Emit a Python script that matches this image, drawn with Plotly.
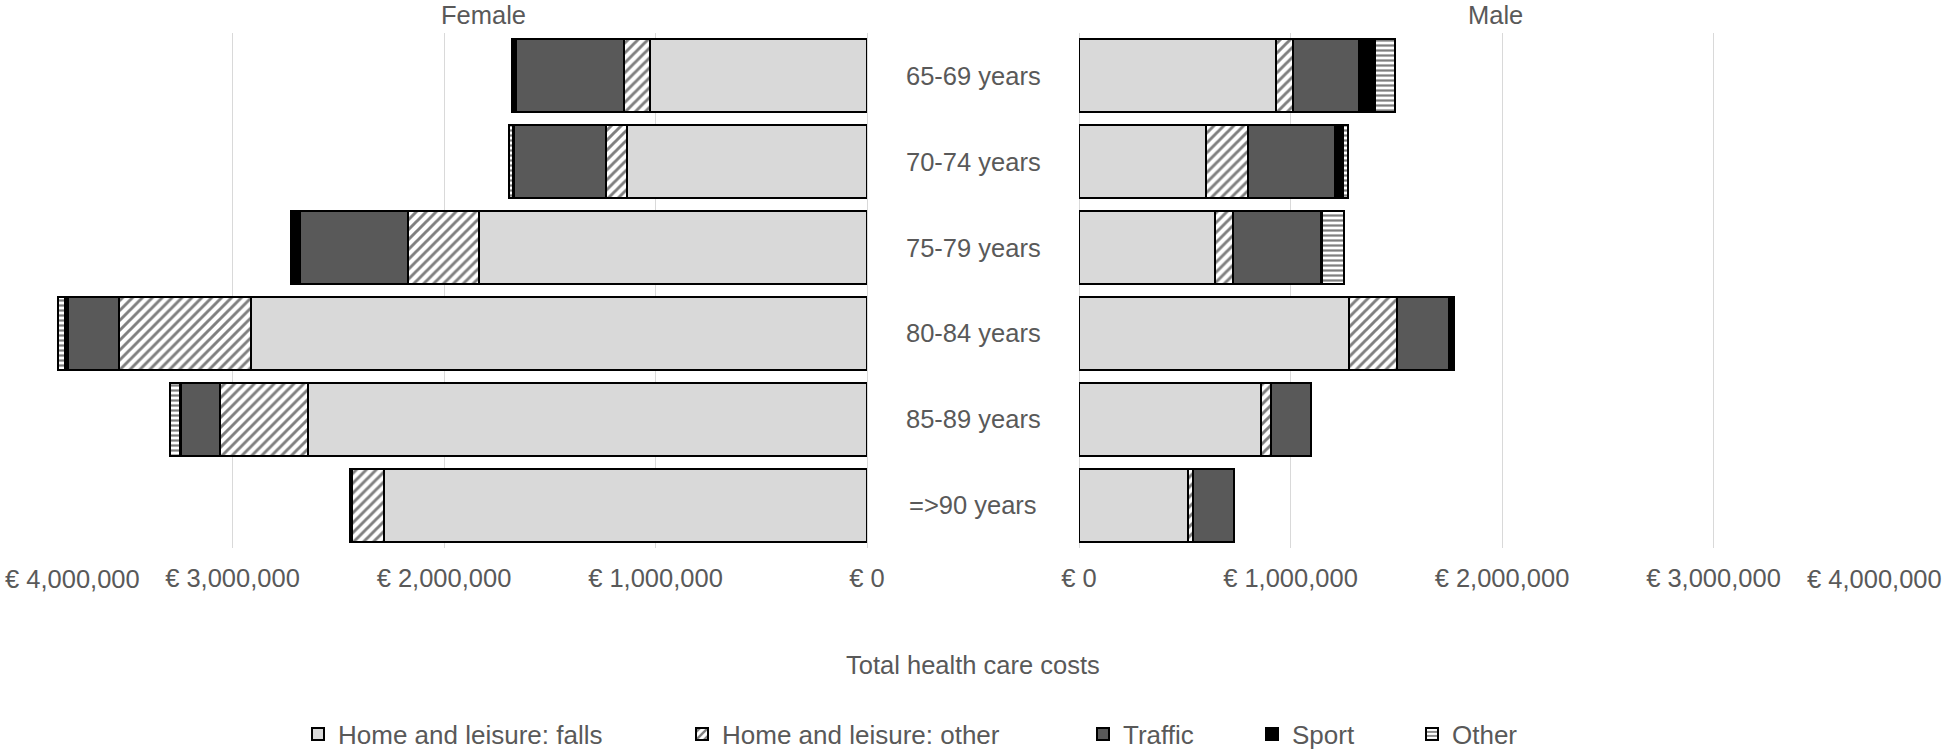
import plotly.graph_objects as go

W, H = 1946, 752

age_groups = ["65-69 years", "70-74 years", "75-79 years", "80-84 years", "85-89 years", "=>90 years"]
cause_names = ["Home and leisure: falls", "Home and leisure: other", "Traffic", "Sport", "Other"]

female_falls = [1025000, 1135000, 1835000, 2913000, 2645000, 2285000]
female_hl_other = [125000, 100000, 337000, 622000, 413000, 152000]
female_traffic = [508000, 434000, 510000, 245000, 187000, 0]
female_sport = [20000, 5000, 41000, 13000, 5000, 8000]
female_other = [0, 18000, 0, 30000, 45000, 0]

male_falls = [932000, 602000, 643000, 1275000, 859000, 513000]
male_hl_other = [81000, 197000, 87000, 227000, 51000, 25000]
male_traffic = [311000, 411000, 413000, 246000, 189000, 195000]
male_sport = [76000, 38000, 8000, 27000, 0, 0]
male_other = [92000, 24000, 103000, 0, 0, 0]

tick_values = [0, 1000000, 2000000, 3000000, 4000000]

female = [female_falls, female_hl_other, female_traffic, female_sport, female_other]
male = [male_falls, male_hl_other, male_traffic, male_sport, male_other]

FONT = "Liberation Sans, Arial, sans-serif"
TXT = "#595959"
FS = 25.5

styles = [
    dict(color="#D9D9D9"),
    dict(color="white", pattern=dict(shape="/", fgcolor="black", bgcolor="white", size=7, solidity=0.42)),
    dict(color="#595959"),
    dict(color="#000000"),
    dict(color="white", pattern=dict(shape="-", fgcolor="black", bgcolor="white", size=5, solidity=0.45)),
]

legend_ids = ["legend", "legend2", "legend3", "legend4", "legend5"]
text_starts = [343, 727, 1128, 1297, 1457]

fig = go.Figure()
for i, name in enumerate(cause_names):
    st = styles[i]
    marker = dict(color=st["color"], line=dict(color="black", width=2))
    if "pattern" in st:
        marker["pattern"] = st["pattern"]
    fig.add_trace(go.Bar(y=age_groups, x=female[i], orientation="h", name=name,
                         marker=marker, xaxis="x", yaxis="y",
                         legend=legend_ids[i], showlegend=True))
    fig.add_trace(go.Bar(y=age_groups, x=male[i], orientation="h", name=name,
                         marker=marker, xaxis="x2", yaxis="y",
                         legend=legend_ids[i], showlegend=False))

ticktext = [f"€ {v:,}" if v != tick_values[-1] else "" for v in tick_values]

axis_common = dict(tickvals=tick_values, ticktext=ticktext, showgrid=True, gridcolor="#D9D9D9",
                   gridwidth=1, zeroline=True, zerolinecolor="#D9D9D9", zerolinewidth=1,
                   showline=False, ticks="", tickfont=dict(family=FONT, size=FS, color=TXT),
                   ticklabelstandoff=12, automargin=False,
                   anchor="y", fixedrange=True)

L0, R0 = 21, 867
L1, R1 = 1079, 1925
fig.update_layout(
    width=W, height=H, autosize=False,
    margin=dict(l=0, r=0, t=33, b=204, autoexpand=False),
    paper_bgcolor="white", plot_bgcolor="white",
    barmode="stack", bargap=0.15,
    font=dict(family=FONT, size=FS, color=TXT),
    xaxis=dict(domain=[L0 / W, R0 / W], range=[4000000, 0], **axis_common),
    xaxis2=dict(domain=[L1 / W, R1 / W], range=[0, 4000000], **axis_common),
    yaxis=dict(type="category", categoryarray=age_groups, categoryorder="array",
               autorange="reversed", showticklabels=False, showgrid=False, zeroline=False,
               domain=[0, 1], automargin=False, fixedrange=True),
)

leg_kw = {}
for i, lid in enumerate(legend_ids):
    leg_kw[lid] = dict(orientation="h", xref="container", yref="container",
                       x=(text_starts[i] - 45) / W, xanchor="left",
                       y=1 - 734 / H, yanchor="middle",
                       bgcolor="rgba(0,0,0,0)", borderwidth=0,
                       font=dict(family=FONT, size=26, color=TXT))
fig.update_layout(**leg_kw)

plot_top, plot_bot = 33, 548
def py(pix):
    return (plot_bot - pix) / (plot_bot - plot_top)

ann = []
for g in age_groups:
    ann.append(dict(x=973 / W, y=g, xref="paper", yref="y", text=g, showarrow=False,
                    font=dict(family=FONT, size=FS, color=TXT), xanchor="center", yanchor="middle"))
ann.append(dict(x=483 / W, y=py(15), xref="paper", yref="paper", text="Female", showarrow=False,
                font=dict(family=FONT, size=FS, color=TXT), xanchor="center", yanchor="middle"))
ann.append(dict(x=1495 / W, y=py(15), xref="paper", yref="paper", text="Male", showarrow=False,
                font=dict(family=FONT, size=FS, color=TXT), xanchor="center", yanchor="middle"))
ann.append(dict(x=973 / W, y=py(665), xref="paper", yref="paper", text="Total health care costs",
                showarrow=False, font=dict(family=FONT, size=FS, color=TXT),
                xanchor="center", yanchor="middle"))
edge_label = f"€ {tick_values[-1]:,}"
ann.append(dict(x=3 / W, y=py(579), xref="paper", yref="paper", text=edge_label, showarrow=False,
                font=dict(family=FONT, size=FS, color=TXT), xanchor="left", yanchor="middle"))
ann.append(dict(x=1944 / W, y=py(579), xref="paper", yref="paper", text=edge_label, showarrow=False,
                font=dict(family=FONT, size=FS, color=TXT), xanchor="right", yanchor="middle"))
fig.update_layout(annotations=ann)

post = ("document.body.style.margin='0';document.body.style.overflow='hidden';"
        "var gd=document.getElementById('{plot_id}');"
        "Plotly.relayout(gd,{width:%d,height:%d});" % (W, H))
fig.write_html("out.html", post_script=post, config={"displayModeBar": False})
